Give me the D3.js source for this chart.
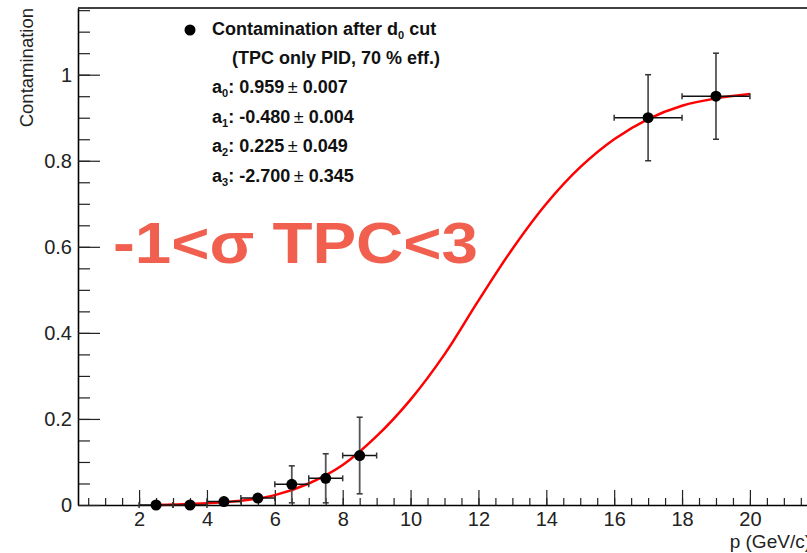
<!DOCTYPE html>
<html>
<head>
<meta charset="utf-8">
<script src="https://cdn.jsdelivr.net/npm/d3@7"></script>
<style>
  html, body { margin: 0; padding: 0; background: #fff; }
  svg { display: block; font-family: "Liberation Sans", Arial, Helvetica, sans-serif; }
</style>
</head>
<body>
<div id="chart"></div>
<script>
// measured points: p bin centre, half width, contamination, error
var pBins = [2.5, 3.5, 4.5, 5.5, 6.5, 7.5, 8.5, 17, 19];
var pErr = [0.5, 0.5, 0.5, 0.5, 0.5, 0.5, 0.5, 1, 1];
var contamination = [0.0, 0.0, 0.008, 0.016, 0.048, 0.062, 0.115, 0.9, 0.95];
var contErr = [0.002, 0.002, 0.003, 0.006, 0.043, 0.057, 0.089, 0.1, 0.1];

// fit curve
var fitP = [2.5, 3, 4, 5, 6, 7, 8, 9, 10, 11, 12, 13, 14, 15, 16, 17, 18, 19, 20];
var fitVal = [0, 0.001, 0.004, 0.01, 0.023, 0.05, 0.093, 0.16, 0.245, 0.35, 0.475, 0.595, 0.70, 0.785, 0.85, 0.897, 0.928, 0.945, 0.955];

var xTicks = [2, 4, 6, 8, 10, 12, 14, 16, 18, 20];
var yTicks = [0, 0.2, 0.4, 0.6, 0.8, 1];

var fitParams = [
  {name: "0", value: "0.959", err: "0.007"},
  {name: "1", value: "-0.480", err: "0.004"},
  {name: "2", value: "0.225", err: "0.049"},
  {name: "3", value: "-2.700", err: "0.345"}
];

var width = 807, height = 553;
var x = d3.scaleLinear().domain([0.2, 21.8]).range([78, 811]);
var y = d3.scaleLinear().domain([0, 1.155]).range([505, 8]);

var svg = d3.select("#chart").append("svg")
  .attr("width", width)
  .attr("height", height);

// minor ticks first, then the labelled axes on top
var xMinor = d3.range(1, 44).map(function(i) { return i * 0.5; });
var yMinor = d3.range(1, 24).map(function(i) { return i * 0.05; });

svg.append("g")
  .attr("transform", "translate(0,505)")
  .call(d3.axisBottom(x).tickValues(xMinor).tickSizeInner(-7).tickSizeOuter(0).tickFormat(""))
  .call(function(g) { g.select(".domain").remove(); });

svg.append("g")
  .attr("transform", "translate(78,0)")
  .call(d3.axisLeft(y).tickValues(yMinor).tickSizeInner(-12).tickSizeOuter(0).tickFormat(""))
  .call(function(g) { g.select(".domain").remove(); });

svg.append("g")
  .attr("transform", "translate(0,505)")
  .call(d3.axisBottom(x).tickValues(xTicks).tickSizeInner(-15).tickSizeOuter(0).tickPadding(7));

svg.append("g")
  .attr("transform", "translate(78,0)")
  .call(d3.axisLeft(y).tickValues(yTicks).tickSizeInner(-22).tickSizeOuter(0).tickPadding(6)
        .tickFormat(d3.format("~g")));

svg.selectAll(".tick line").attr("stroke", "#222").attr("stroke-width", 1.2);
svg.selectAll(".domain").attr("stroke", "#000").attr("stroke-width", 1.6);
svg.selectAll(".tick text").attr("font-size", 20).attr("fill", "#222")
  .attr("font-family", "'Liberation Sans', Arial, sans-serif");

// top frame line
svg.append("line")
  .attr("x1", 78).attr("x2", 811)
  .attr("y1", y(1.155)).attr("y2", y(1.155))
  .attr("stroke", "#000").attr("stroke-width", 1.6);

// axis titles
svg.append("text")
  .attr("transform", "translate(33," + y(1.155) + ") rotate(-90)")
  .attr("text-anchor", "end")
  .attr("font-size", 18.5)
  .attr("fill", "#222")
  .text("Contamination");

// right end sits past the window edge, as in the original
svg.append("text")
  .attr("x", 811).attr("y", 548)
  .attr("text-anchor", "end")
  .attr("font-size", 19)
  .attr("fill", "#222")
  .text("p (GeV/c)");

// big annotation
svg.append("text")
  .attr("x", 113).attr("y", 263)
  .attr("font-size", 58)
  .attr("font-weight", "bold")
  .attr("fill", "#f1604f")
  .attr("textLength", 365)
  .attr("lengthAdjust", "spacingAndGlyphs")
  .text("-1<σ TPC<3");

// fit curve
var fitData = fitP.map(function(p, i) { return [p, fitVal[i]]; });
svg.append("path")
  .datum(fitData)
  .attr("fill", "none")
  .attr("stroke", "#ff0000")
  .attr("stroke-width", 2.5)
  .attr("d", d3.line()
    .x(function(d) { return x(d[0]); })
    .y(function(d) { return y(d[1]); })
    .curve(d3.curveCatmullRom.alpha(0.5)));

// error bars and markers
var points = pBins.map(function(p, i) {
  return {p: p, ep: pErr[i], c: contamination[i], ec: contErr[i]};
});

var pts = svg.append("g").selectAll("g").data(points).enter().append("g");

pts.append("line")
  .attr("x1", function(d) { return x(d.p - d.ep); })
  .attr("x2", function(d) { return x(d.p + d.ep); })
  .attr("y1", function(d) { return y(d.c); })
  .attr("y2", function(d) { return y(d.c); })
  .attr("stroke", "#111").attr("stroke-width", 1.5);

pts.append("line")
  .attr("x1", function(d) { return x(d.p); })
  .attr("x2", function(d) { return x(d.p); })
  .attr("y1", function(d) { return y(d.c - d.ec); })
  .attr("y2", function(d) { return y(d.c + d.ec); })
  .attr("stroke", "#555").attr("stroke-width", 1.8);

// end caps
[-1, 1].forEach(function(s) {
  pts.append("line")
    .attr("x1", function(d) { return x(d.p + s * d.ep); })
    .attr("x2", function(d) { return x(d.p + s * d.ep); })
    .attr("y1", function(d) { return y(d.c) - 3; })
    .attr("y2", function(d) { return y(d.c) + 3; })
    .attr("stroke", "#333").attr("stroke-width", 1.5);
  pts.append("line")
    .attr("x1", function(d) { return x(d.p) - 3; })
    .attr("x2", function(d) { return x(d.p) + 3; })
    .attr("y1", function(d) { return y(d.c + s * d.ec); })
    .attr("y2", function(d) { return y(d.c + s * d.ec); })
    .attr("stroke", "#333").attr("stroke-width", 1.5);
});

pts.append("circle")
  .attr("cx", function(d) { return x(d.p); })
  .attr("cy", function(d) { return y(d.c); })
  .attr("r", 5.5)
  .attr("fill", "#000");

// legend
var legend = svg.append("g").attr("font-weight", "bold").attr("font-size", 18).attr("fill", "#111");

legend.append("circle").attr("cx", 190).attr("cy", 30).attr("r", 5.5).attr("fill", "#000");

var l1 = legend.append("text").attr("x", 212).attr("y", 35);
l1.append("tspan").text("Contamination after d");
l1.append("tspan").attr("font-size", 11).attr("dy", 4).text("0");
l1.append("tspan").attr("dy", -4).text(" cut");

legend.append("text").attr("x", 232).attr("y", 64).text("(TPC only PID, 70 % eff.)");

fitParams.forEach(function(fp, i) {
  var t = legend.append("text").attr("x", 212).attr("y", 93 + i * 29.7);
  t.append("tspan").text("a");
  t.append("tspan").attr("font-size", 11).attr("dy", 4).text(fp.name);
  t.append("tspan").attr("dy", -4).text(": " + fp.value);
  t.append("tspan").attr("font-weight", "normal").text("\u2009\u00b1 ");
  t.append("tspan").text(fp.err);
});
</script>
</body>
</html>
